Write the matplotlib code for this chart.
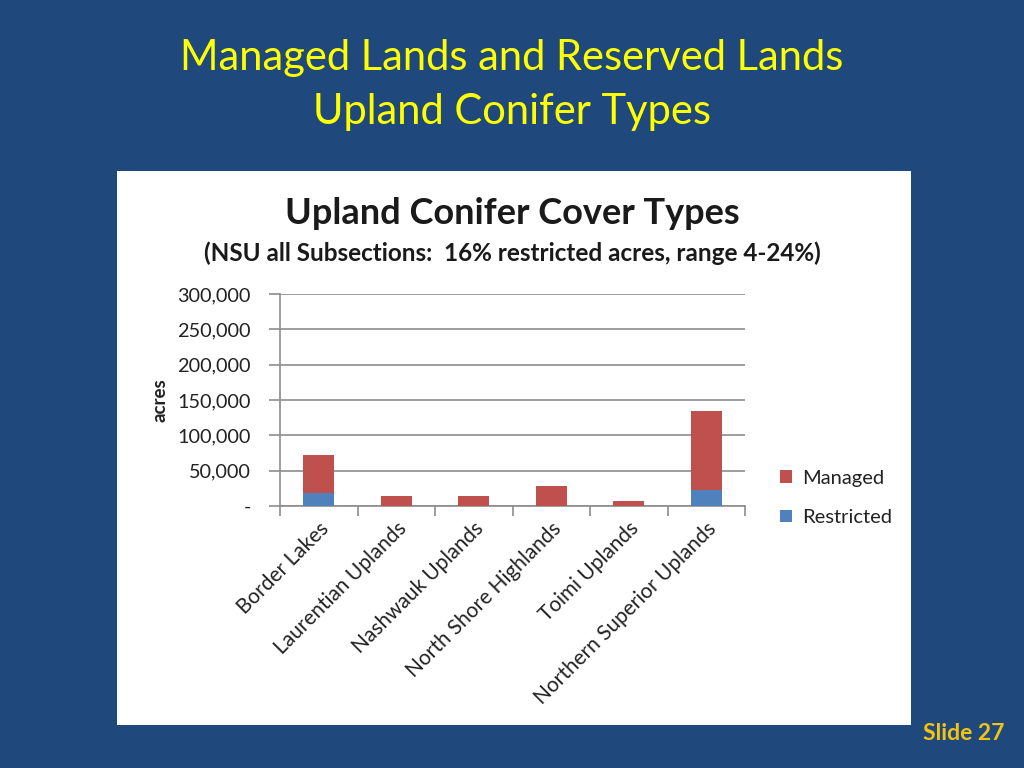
import matplotlib
matplotlib.use("Agg")
import matplotlib.pyplot as plt
from matplotlib.patches import Rectangle
from matplotlib.ticker import FuncFormatter, FixedLocator
import numpy as np

plt.rcParams["font.family"] = ["Lato", "DejaVu Sans"]

categories = ["Border Lakes", "Laurentian Uplands", "Nashwauk Uplands",
              "North Shore Highlands", "Toimi Uplands", "Northern Superior Uplands"]
restricted = [18000, 500, 500, 600, 300, 23000]
managed = [54000, 13200, 13000, 27300, 6300, 112000]

BG = "#1F497D"
RED = "#C0504D"
BLUE = "#4F81BD"
GRID = "#8C8C8C"

fig = plt.figure(figsize=(10.24, 7.68), dpi=100)
fig.patch.set_facecolor(BG)

# white chart panel
fig.patches.append(Rectangle((117 / 1024, 43 / 768), 794 / 1024, 554 / 768,
                             transform=fig.transFigure, facecolor="white",
                             edgecolor="none", zorder=-1))

fig.text(0.5, 1 - 58 / 768, "Managed Lands and Reserved Lands", color="#FFFF00",
         fontsize=30, ha="center", va="center")
fig.text(0.5, 1 - 112 / 768, "Upland Conifer Types", color="#FFFF00",
         fontsize=30, ha="center", va="center")
fig.text(1 - 20 / 1024, 1 - 733 / 768, "Slide 27", color="#F2C314",
         fontsize=16.5, fontweight="bold", ha="right", va="center")

fig.text(512 / 1024, 1 - 213 / 768, "Upland Conifer Cover Types", color="#1a1a1a",
         fontsize=26, fontweight="bold", ha="center", va="center")
fig.text(512 / 1024, 1 - 253 / 768,
         "(NSU all Subsections:  16% restricted acres, range 4-24%)",
         color="#1a1a1a", fontsize=17.5, fontweight="bold", ha="center", va="center")

ax = fig.add_axes([280 / 1024, 1 - 506 / 768, 465 / 1024, 212 / 768])
ax.set_zorder(2)
ax.set_facecolor("none")

x = np.arange(len(categories))
ax.bar(x, restricted, width=0.4, color=BLUE, label="Restricted", zorder=3)
ax.bar(x, managed, width=0.4, bottom=restricted, color=RED, label="Managed", zorder=3)

ax.set_xlim(-0.5, len(categories) - 0.5)
ax.set_ylim(0, 300000)
ax.set_yticks(np.arange(0, 300001, 50000))
ax.yaxis.set_major_formatter(FuncFormatter(lambda v, p: "-" if v == 0 else f"{int(v):,}"))
ax.grid(axis="y", color=GRID, linewidth=1.2, zorder=0)

ax.xaxis.set_major_locator(FixedLocator(np.arange(-0.5, len(categories), 1.0)))
ax.xaxis.set_minor_locator(FixedLocator(x))
ax.set_xticklabels([])
ax.set_xticklabels(categories, minor=True, rotation=45, ha="right",
                   rotation_mode="anchor", fontsize=15, color="#222222")
ax.tick_params(axis="x", which="minor", length=0, pad=9)
ax.tick_params(axis="x", which="major", length=7, color=GRID, width=1.2)
ax.tick_params(axis="y", length=8, color=GRID, width=1.2, labelsize=14.3,
               labelcolor="#222222", pad=13)

for s in ["top", "right"]:
    ax.spines[s].set_visible(False)
ax.spines["left"].set_color(GRID)
ax.spines["bottom"].set_color(GRID)
ax.spines["left"].set_linewidth(1.2)
ax.spines["bottom"].set_linewidth(1.2)

ax.set_ylabel("acres", fontsize=13.5, fontweight="bold", color="#222222", labelpad=6)

handles, labels = ax.get_legend_handles_labels()
leg = fig.legend(handles[::-1], labels[::-1], loc="center left",
                 bbox_to_anchor=(762 / 1024, 1 - 498 / 768), frameon=False,
                 fontsize=14.5, handlelength=0.6, handleheight=0.6,
                 labelspacing=1.1, handletextpad=0.5)
for t in leg.get_texts():
    t.set_color("#222222")

fig.savefig("out.png", dpi=100, facecolor=BG)
